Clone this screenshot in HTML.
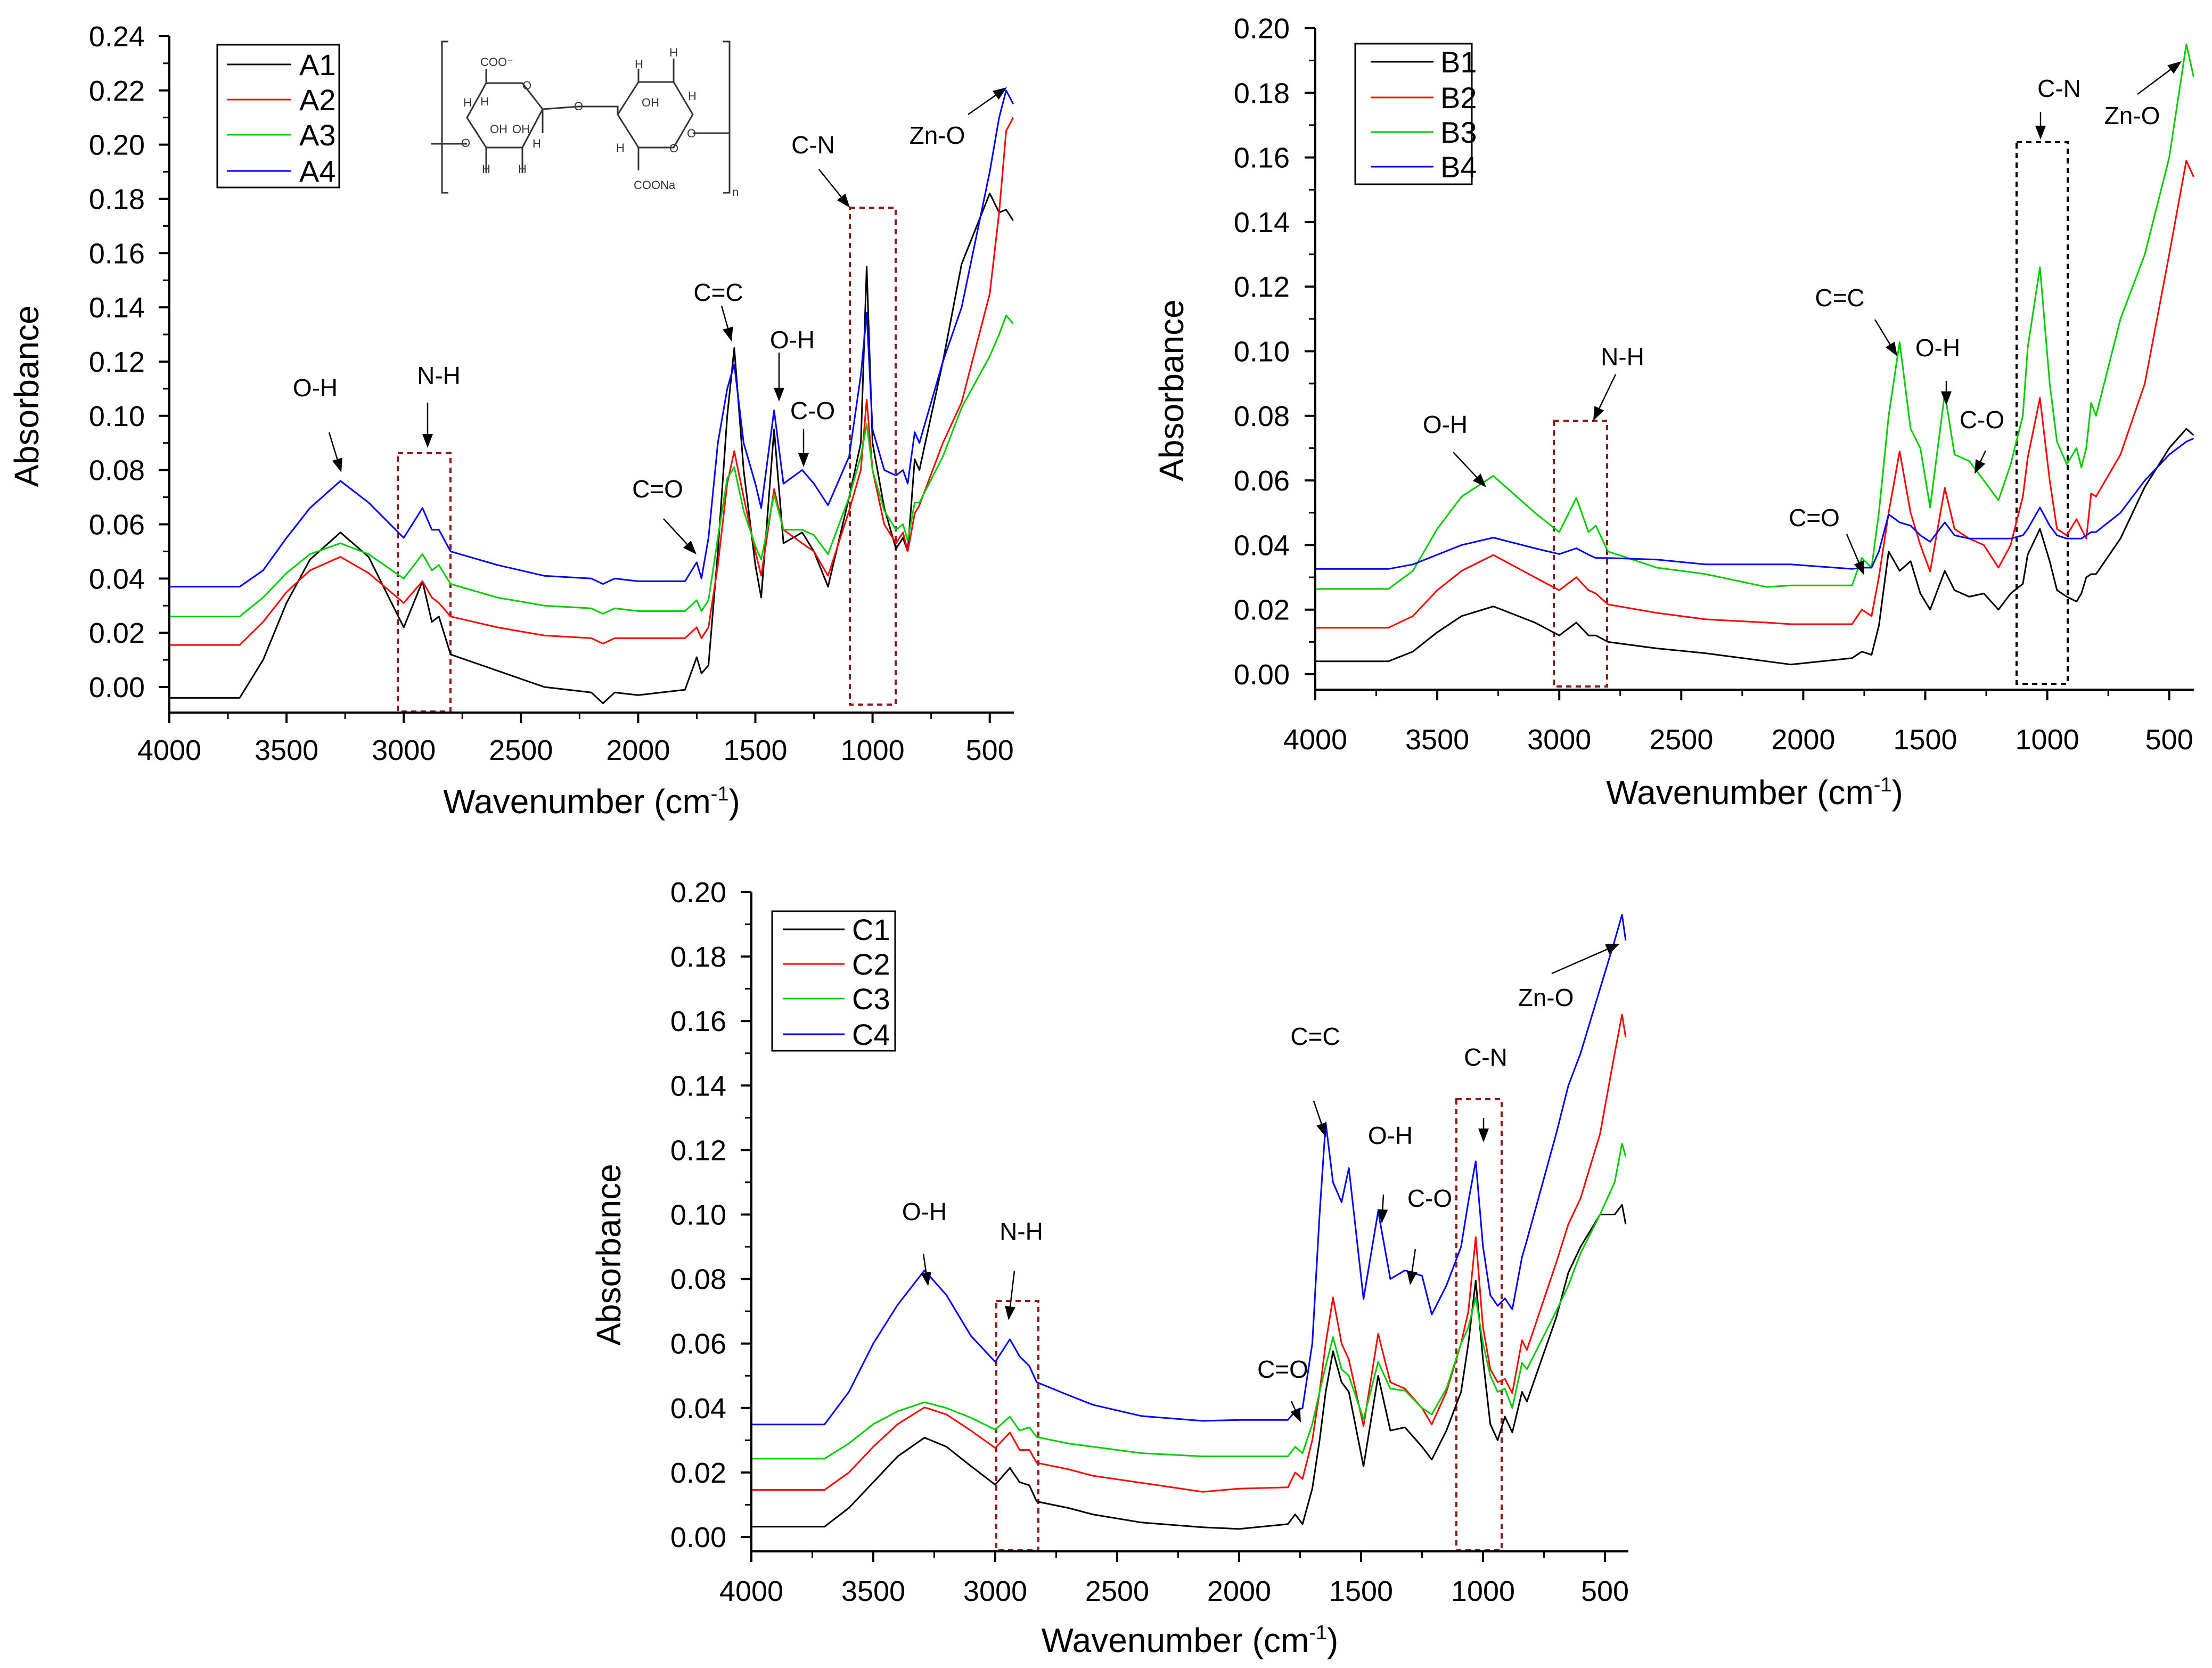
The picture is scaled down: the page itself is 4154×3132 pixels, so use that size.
<!DOCTYPE html>
<html><head><meta charset="utf-8"><style>
html,body{margin:0;padding:0;background:#fff;}
svg{display:block;font-family:"Liberation Sans",Arial,sans-serif;}
</style></head><body>
<svg id="s" width="4154" height="3132" viewBox="0 0 4154 3132" xmlns="http://www.w3.org/2000/svg">
<g id="struct" stroke="#333" stroke-width="3" fill="none">
<path d="M842,78 L830,78 L830,362 L842,362"/><path d="M1358,78 L1370,78 L1370,362 L1358,362"/>
<polygon points="913,156 981,156 1019,205 981,277 913,277 877,221"/>
<polygon points="1199,154 1265,154 1301,215 1265,277 1199,277 1160,215"/>
<path d="M810,270 L877,270 M1019,250 L1019,205 L1087,200 L1160,200 L1160,215 M1301,250 L1370,250 M913,156 L913,130 M1199,154 L1199,130 M1265,154 L1265,110 M1199,277 L1199,320 M913,277 L913,325 M981,277 L981,325"/>
<g fill="#333" stroke="none" font-size="22">
<text x="902" y="124">COO⁻</text><text x="1078" y="207">O</text><text x="981" y="168">O</text><text x="1257" y="286">O</text>
<text x="1290" y="258">O</text><text x="866" y="276">O</text><text x="920" y="250">OH</text><text x="962" y="250">OH</text>
<text x="1205" y="200">OH</text><text x="1190" y="355">COONa</text><text x="1375" y="368">n</text>
<text x="1257" y="106">H</text><text x="1192" y="128">H</text><text x="905" y="325" >H</text><text x="973" y="325">H</text>
<text x="1000" y="277">H</text><text x="1292" y="188">H</text><text x="1157" y="285">H</text><text x="870" y="200">H</text><text x="902" y="198">H</text>
</g></g>
<g id="plots"></g>
</svg>
<script>
// ---- Panel A data ----
const wnA=[4000,3700,3600,3500,3400,3270,3150,3000,2920,2880,2850,2800,2600,2400,2200,2150,2100,2000,1800,1750,1730,1700,1660,1620,1590,1550,1500,1475,1420,1380,1300,1250,1190,1100,1050,1025,1000,950,900,870,850,820,800,700,620,500,460,430,400];
const A1=[-0.004,-0.004,0.010,0.031,0.047,0.057,0.048,0.022,0.039,0.024,0.026,0.012,0.006,0.000,-0.002,-0.006,-0.002,-0.003,-0.001,0.011,0.005,0.008,0.05,0.10,0.125,0.08,0.045,0.033,0.095,0.053,0.057,0.05,0.037,0.07,0.09,0.155,0.09,0.066,0.051,0.055,0.05,0.084,0.08,0.12,0.156,0.182,0.175,0.176,0.172];
const A2=[0.0155,0.0155,0.024,0.035,0.043,0.048,0.042,0.031,0.039,0.033,0.031,0.026,0.022,0.019,0.018,0.016,0.018,0.018,0.018,0.022,0.018,0.022,0.045,0.075,0.087,0.07,0.05,0.041,0.073,0.058,0.053,0.05,0.041,0.065,0.08,0.106,0.08,0.06,0.053,0.057,0.05,0.064,0.067,0.09,0.105,0.145,0.175,0.205,0.21];
const A3=[0.026,0.026,0.033,0.042,0.049,0.053,0.049,0.040,0.049,0.043,0.045,0.038,0.033,0.030,0.029,0.027,0.029,0.028,0.028,0.032,0.028,0.032,0.055,0.077,0.081,0.065,0.052,0.047,0.071,0.058,0.058,0.056,0.049,0.07,0.085,0.097,0.08,0.065,0.058,0.06,0.054,0.068,0.068,0.085,0.103,0.122,0.13,0.137,0.134];
const A4=[0.037,0.037,0.043,0.055,0.066,0.076,0.068,0.055,0.066,0.058,0.058,0.050,0.045,0.041,0.040,0.038,0.040,0.039,0.039,0.046,0.040,0.055,0.09,0.11,0.119,0.09,0.075,0.066,0.102,0.075,0.08,0.075,0.067,0.085,0.115,0.138,0.095,0.08,0.078,0.08,0.075,0.094,0.09,0.12,0.14,0.19,0.21,0.22,0.215];
// ---- Panel B data ----
const wnB=[4000,3700,3600,3500,3400,3270,3100,3000,2930,2880,2850,2800,2600,2400,2150,2050,1800,1760,1720,1690,1650,1605,1560,1520,1480,1420,1380,1320,1260,1200,1150,1100,1080,1030,990,960,920,880,860,840,820,800,700,600,500,430,400];
const B1=[0.004,0.004,0.007,0.013,0.018,0.021,0.016,0.012,0.016,0.012,0.012,0.010,0.008,0.0065,0.004,0.003,0.005,0.007,0.006,0.015,0.038,0.032,0.035,0.025,0.020,0.032,0.026,0.024,0.025,0.020,0.025,0.028,0.037,0.045,0.035,0.026,0.024,0.0225,0.025,0.03,0.031,0.031,0.042,0.058,0.07,0.076,0.074];
const B2=[0.0144,0.0144,0.018,0.026,0.032,0.0369,0.03,0.026,0.030,0.026,0.025,0.0216,0.019,0.017,0.016,0.0155,0.0155,0.02,0.018,0.03,0.05,0.069,0.05,0.04,0.0318,0.0577,0.045,0.042,0.04,0.033,0.04,0.055,0.067,0.0855,0.06,0.045,0.043,0.048,0.045,0.042,0.056,0.055,0.068,0.09,0.13,0.159,0.154];
const B3=[0.0264,0.0264,0.032,0.045,0.055,0.0614,0.05,0.044,0.0546,0.044,0.046,0.038,0.033,0.031,0.027,0.0275,0.0275,0.036,0.033,0.05,0.08,0.1028,0.076,0.07,0.0516,0.0871,0.068,0.066,0.06,0.0538,0.065,0.08,0.101,0.126,0.09,0.072,0.065,0.07,0.064,0.07,0.084,0.08,0.11,0.13,0.16,0.195,0.185];
const B4=[0.0326,0.0326,0.034,0.037,0.040,0.0423,0.039,0.0372,0.039,0.037,0.036,0.036,0.0355,0.034,0.034,0.034,0.0326,0.033,0.033,0.038,0.0495,0.047,0.046,0.043,0.041,0.047,0.043,0.042,0.042,0.042,0.042,0.043,0.045,0.0516,0.046,0.043,0.042,0.042,0.042,0.043,0.044,0.044,0.05,0.06,0.068,0.072,0.073];
// ---- Panel C data ----
const wnC=[4000,3700,3600,3500,3400,3290,3200,3100,3000,2940,2900,2860,2830,2700,2600,2400,2150,2000,1800,1770,1740,1700,1670,1645,1615,1580,1550,1490,1430,1380,1320,1250,1210,1150,1090,1060,1030,1000,970,940,910,880,840,820,700,650,600,520,460,430,415];
const C1=[0.0032,0.0032,0.009,0.017,0.025,0.0308,0.028,0.022,0.0162,0.0214,0.017,0.016,0.011,0.009,0.007,0.0045,0.003,0.0025,0.004,0.007,0.004,0.015,0.03,0.045,0.0576,0.048,0.045,0.0219,0.05,0.033,0.034,0.028,0.024,0.033,0.045,0.06,0.0795,0.055,0.035,0.03,0.0373,0.0324,0.045,0.042,0.068,0.082,0.09,0.1,0.1,0.103,0.097];
const C2=[0.0146,0.0146,0.02,0.028,0.035,0.0402,0.038,0.033,0.0276,0.0324,0.027,0.027,0.023,0.021,0.019,0.0168,0.014,0.015,0.0154,0.02,0.018,0.03,0.045,0.06,0.0743,0.06,0.055,0.0344,0.063,0.048,0.046,0.04,0.0349,0.045,0.06,0.07,0.093,0.065,0.052,0.048,0.049,0.0446,0.061,0.058,0.085,0.097,0.105,0.125,0.15,0.162,0.155];
const C3=[0.0243,0.0243,0.029,0.035,0.039,0.0418,0.04,0.037,0.0333,0.0373,0.033,0.034,0.031,0.029,0.028,0.026,0.025,0.025,0.025,0.028,0.026,0.035,0.045,0.053,0.062,0.052,0.05,0.0365,0.0543,0.046,0.0454,0.04,0.038,0.046,0.06,0.065,0.0743,0.06,0.05,0.045,0.046,0.04,0.054,0.052,0.07,0.078,0.088,0.1,0.11,0.122,0.118];
const C4=[0.0349,0.0349,0.045,0.06,0.072,0.0827,0.075,0.0624,0.0543,0.0613,0.056,0.053,0.048,0.044,0.041,0.0375,0.036,0.0363,0.0363,0.039,0.040,0.06,0.1,0.1285,0.11,0.1038,0.1144,0.0738,0.101,0.08,0.0827,0.081,0.069,0.078,0.09,0.104,0.1165,0.09,0.075,0.0717,0.074,0.0706,0.0868,0.092,0.125,0.14,0.15,0.17,0.185,0.193,0.185];
const xTicks=[4000,3500,3000,2500,2000,1500,1000,500];
const yTicksA=[0,0.02,0.04,0.06,0.08,0.10,0.12,0.14,0.16,0.18,0.20,0.22,0.24];
const yTicksBC=[0,0.02,0.04,0.06,0.08,0.10,0.12,0.14,0.16,0.18,0.20];
const colors=['#000','#f00','#0c0','#00f'];

const NS='http://www.w3.org/2000/svg';
const root=document.getElementById('plots');
function mk(tag,attrs,parent){const e=document.createElementNS(NS,tag);for(const k in attrs)e.setAttribute(k,attrs[k]);(parent||root).appendChild(e);return e;}

const panels=[
 {id:'a',x0:318,kx:0.4402,y0:1290,ky:5092,top:68,bottom:1338,right:1904,yt:yTicksA,series:[A1,A2,A3,A4],wn:wnA,names:['A1','A2','A3','A4'],
  leg:{x:408,y:84,w:229,h:268,l1:426,l2:547,tx:562,rows:[121,187,253,321]},
  ylabR:272,xlabY:1427,titleY:1527,absX:72,absY:744,
  boxes:[[747,851,846,1336,'#8b1a1a'],[1596,390,1682,1323,'#8b1a1a']],
  ann:[['O-H',592,728,618,812,641,887],['N-H',824,705,803,756,803,841],['C=O',1235,918,1246,974,1308,1041],['C=C',1349,549,1355,574,1374,641],['O-H',1488,638,1463,662,1463,754],['C-O',1526,771,1509,805,1509,877],['C-N',1527,272,1538,318,1596,390],['Zn-O',1760,254,1818,215,1891,164]]},
 {id:'b',x0:2470,kx:0.4582,y0:1266,ky:6065,top:53,bottom:1295,right:4120,yt:yTicksBC,series:[B1,B2,B3,B4],wn:wnB,names:['B1','B2','B3','B4'],
  leg:{x:2545,y:82,w:219,h:264,l1:2574,l2:2692,tx:2705,rows:[116,183,248,313]},
  ylabR:2422,xlabY:1407,titleY:1510,absX:2222,absY:733,
  boxes:[[2918,790,3018,1289,'#8b1a1a'],[3787,267,3883,1284,'#000']],
  ann:[['O-H',2714,797,2729,849,2791,915],['N-H',3047,670,3034,703,2992,790],['C=O',3407,972,3468,1003,3501,1080],['C=C',3455,559,3521,600,3563,669],['O-H',3639,653,3655,715,3655,761],['C-O',3722,788,3729,846,3708,890],['C-N',3867,166,3832,210,3832,262],['Zn-O',4004,217,4014,177,4097,115]]},
 {id:'c',x0:1411,kx:0.458,y0:2886,ky:6055,top:1675,bottom:2913,right:3058,yt:yTicksBC,series:[C1,C2,C3,C4],wn:wnC,names:['C1','C2','C3','C4'],
  leg:{x:1450,y:1711,w:231,h:262,l1:1470,l2:1586,tx:1600,rows:[1745,1810,1875,1942]},
  ylabR:1364,xlabY:3006,titleY:3102,absX:1165,absY:2356,
  boxes:[[1871,2443,1950,2911,'#8b1a1a'],[2735,2064,2820,2911,'#8b1a1a']],
  ann:[['O-H',1736,2275,1734,2354,1743,2415],['N-H',1918,2312,1905,2386,1894,2479],['C=O',2409,2571,2425,2631,2443,2671],['C=C',2470,1946,2467,2067,2490,2135],['O-H',2611,2132,2598,2243,2595,2297],['C-O',2685,2250,2658,2345,2648,2413],['C-N',2790,1985,2786,2099,2786,2145],['Zn-O',2903,1873,2914,1828,3042,1772]]}
];

panels.forEach(p=>{
 const X=w=>p.x0+(4000-w)*p.kx;
 const Y=v=>p.y0-v*p.ky;
 const g=mk('g',{});
 
 
 p.boxes.forEach((b,i)=>{
  const r=mk('rect',{x:b[0],y:b[1],width:b[2]-b[0],height:b[3]-b[1],fill:'none',stroke:b[4],'stroke-width':4,'stroke-dasharray':'10,8'},g);
  
  
 });
 p.series.forEach((s,i)=>{
  const pts=s.map((v,j)=>X(p.wn[j]).toFixed(1)+','+Y(v).toFixed(1)).join(' ');
  const pl=mk('polyline',{points:pts,fill:'none',stroke:colors[i],'stroke-width':3,'stroke-linejoin':'round'},g);
  
  
 });
 const ax=mk('path',{d:`M${p.x0},${p.top} L${p.x0},${p.bottom} L${p.right},${p.bottom}`,fill:'none',stroke:'#000','stroke-width':4},g);
 
 
 p.yt.forEach((v,i)=>{
  const y=Y(v);
  mk('line',{x1:p.x0-20,x2:p.x0,y1:y,y2:y,stroke:'#000','stroke-width':4},g);
  if(i<p.yt.length-1){const ym=Y(v+0.01);mk('line',{x1:p.x0-12,x2:p.x0,y1:ym,y2:ym,stroke:'#000','stroke-width':3},g);}
  const t=mk('text',{x:p.ylabR,y:y+19,'font-size':54,'text-anchor':'end',fill:'#000'},g);
  t.textContent=v.toFixed(2);
  
  
 });
 xTicks.forEach(w=>{
  const x=X(w);
  mk('line',{x1:x,x2:x,y1:p.bottom,y2:p.bottom+20,stroke:'#000','stroke-width':4},g);
  if(w>500){const xm=X(w-250);mk('line',{x1:xm,x2:xm,y1:p.bottom,y2:p.bottom+12,stroke:'#000','stroke-width':3},g);}
  const t=mk('text',{x:x,y:p.xlabY,'font-size':54,'text-anchor':'middle',fill:'#000'},g);
  t.textContent=w;
  
  
 });
 const xt=mk('text',{x:(p.x0+p.right)/2,y:p.titleY,'font-size':64,'text-anchor':'middle',fill:'#000'},g);
 xt.innerHTML='Wavenumber (cm<tspan dy="-24" font-size="38">-1</tspan><tspan dy="24">)</tspan>';
 
 
 const yt=mk('text',{x:p.absX,y:p.absY,'font-size':64,'text-anchor':'middle',fill:'#000',transform:`rotate(-90 ${p.absX} ${p.absY})`},g);
 yt.textContent='Absorbance';
 
 
 const L=p.leg;
 const lg=mk('g',{},g);
 
 
 mk('rect',{x:L.x,y:L.y,width:L.w,height:L.h,fill:'#fff',stroke:'#000','stroke-width':3},lg);
 L.rows.forEach((ry,i)=>{
  mk('line',{x1:L.l1,x2:L.l2,y1:ry,y2:ry,stroke:colors[i],'stroke-width':3},lg);
  const t=mk('text',{x:L.tx,y:ry+20,'font-size':56,fill:'#000'},lg);
  t.textContent=p.names[i];
  
  
 });
 p.ann.forEach(a=>{
  const t=mk('text',{x:a[1],y:a[2]+16,'font-size':46,'text-anchor':'middle',fill:'#000'},g);
  t.textContent=a[0];
  
  
  const dx=a[5]-a[3],dy=a[6]-a[4],len=Math.hypot(dx,dy),ux=dx/len,uy=dy/len;
  const bx=a[5]-ux*26,by=a[6]-uy*26;
  mk('line',{x1:a[3],y1:a[4],x2:bx,y2:by,stroke:'#000','stroke-width':2.5},g);
  const ar=mk('polygon',{points:`${a[5]},${a[6]} ${bx-uy*10},${by+ux*10} ${bx+uy*10},${by-ux*10}`,fill:'#000'},g);
  
  
 });
});
</script>
</body></html>
